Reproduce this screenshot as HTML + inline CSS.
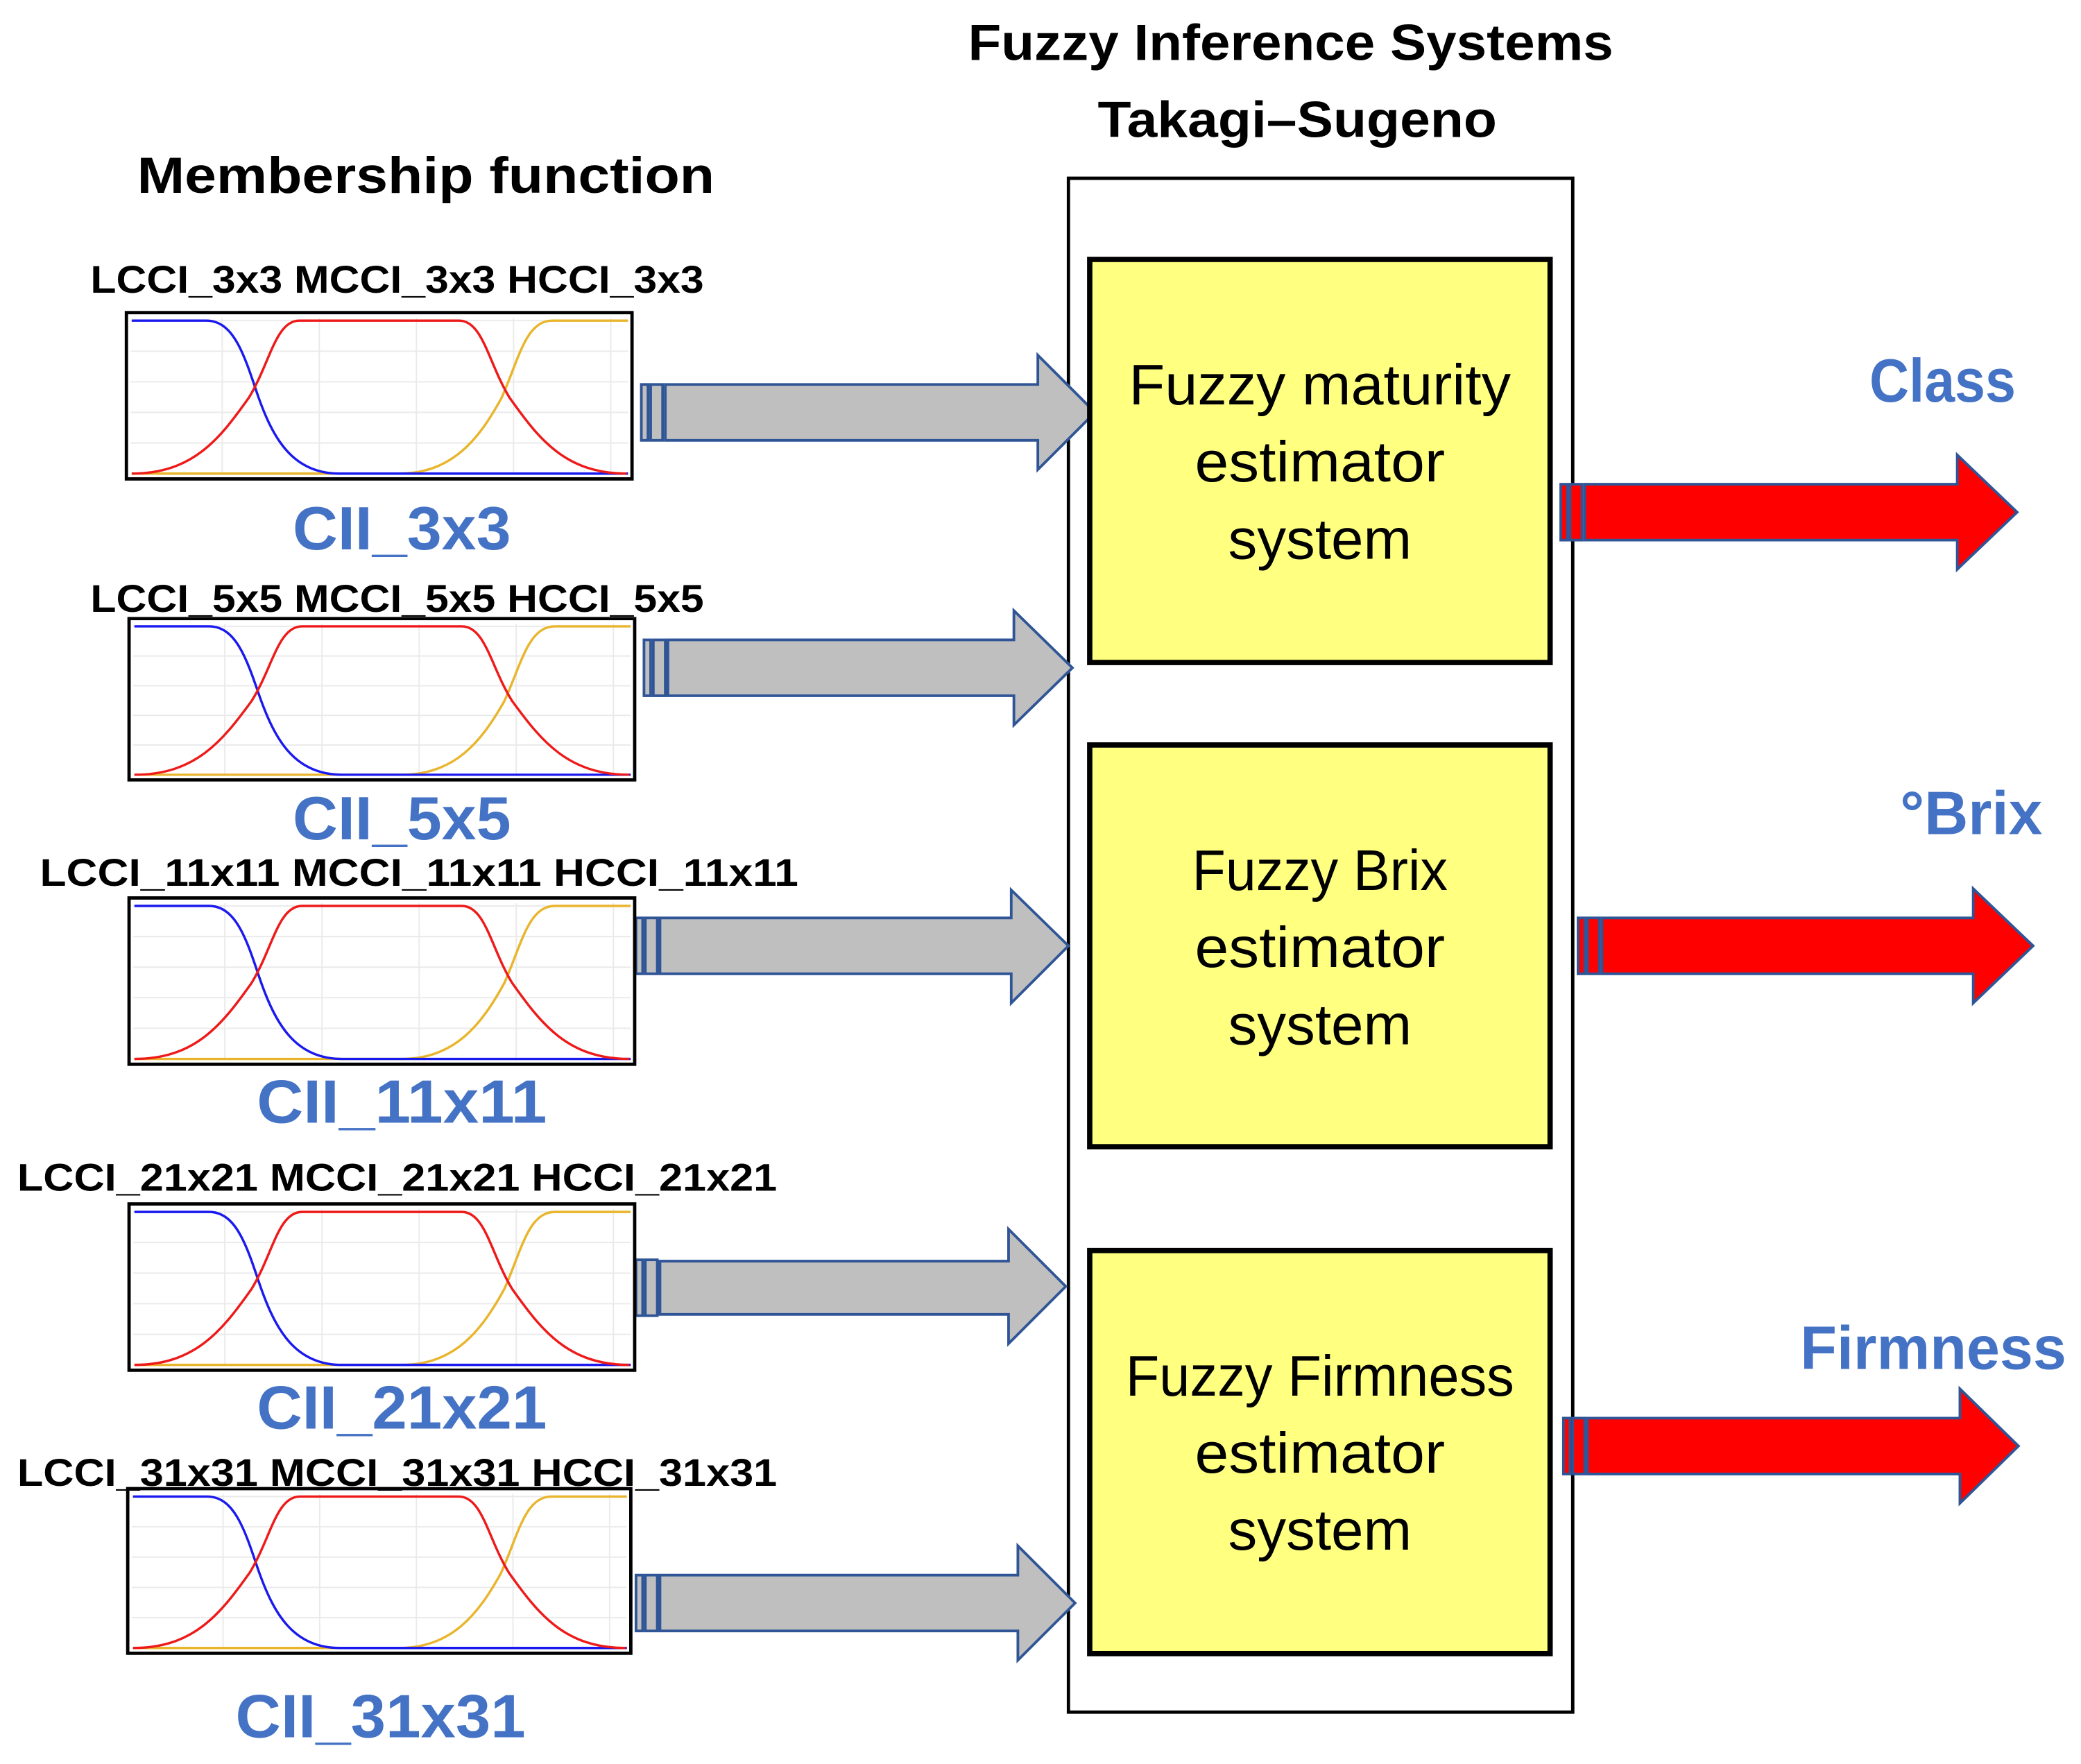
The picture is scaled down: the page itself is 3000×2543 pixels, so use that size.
<!DOCTYPE html>
<html><head><meta charset="utf-8"><style>
html,body{margin:0;padding:0;background:#fff;}
svg{display:block;}
text{font-family:"Liberation Sans",sans-serif;}
</style></head><body>
<svg width="3000" height="2543" viewBox="0 0 1564 1326" preserveAspectRatio="none" xmlns="http://www.w3.org/2000/svg">
<defs>
<g id="chart">
  <rect x="0" y="0" width="380" height="125" fill="#fff"/>
  <g stroke="#eaeaea" stroke-width="1">
    <line x1="72" y1="4" x2="72" y2="122"/><line x1="145" y1="4" x2="145" y2="122"/>
    <line x1="218" y1="4" x2="218" y2="122"/><line x1="291" y1="4" x2="291" y2="122"/>
    <line x1="364" y1="4" x2="364" y2="122"/>
    <line x1="3" y1="6" x2="377" y2="6"/><line x1="3" y1="29" x2="377" y2="29"/>
    <line x1="3" y1="52" x2="377" y2="52"/><line x1="3" y1="75" x2="377" y2="75"/>
    <line x1="3" y1="98" x2="377" y2="98"/>
  </g>
  <g fill="none" stroke-width="1.8">
    <path d="M4 121 H205 C245 121 265 95 282 64 C295 35 300 6 320 6 H377" stroke="#e8b52c"/>
    <path d="M4 6 H60 C80 6 88 30 98 60 C110 95 125 121 160 121 H377" stroke="#1a1aee"/>
    <path d="M4 121 C50 121 70 95 92 64 C108 38 112 6 130 6 H250 C268 6 272 38 288 64 C310 95 330 121 376 121" stroke="#ee1a1a"/>
  </g>
  <rect x="0" y="0" width="380" height="125" fill="none" stroke="#000" stroke-width="2.5"/>
</g>
</defs>

<text x="970" y="45" font-size="38" font-weight="bold" text-anchor="middle" textLength="485" lengthAdjust="spacingAndGlyphs">Fuzzy Inference Systems</text>
<text x="975" y="103" font-size="38" font-weight="bold" text-anchor="middle" textLength="300" lengthAdjust="spacingAndGlyphs">Takagi–Sugeno</text>
<text x="320" y="145" font-size="38" font-weight="bold" text-anchor="middle" textLength="434" lengthAdjust="spacingAndGlyphs">Membership function</text>

<rect x="803" y="134" width="379" height="1153" fill="#fff" stroke="#000" stroke-width="2.5"/>

<g fill="#bfbfbf" stroke="#2f5597" stroke-width="2">
  <rect x="482" y="289" width="5" height="42"/><rect x="489" y="289" width="9" height="42"/>
  <path d="M500 289 H780 V267 L823 310 L780 353 V331 H500 Z"/>
  <rect x="484" y="481" width="5" height="42"/><rect x="491" y="481" width="9" height="42"/>
  <path d="M502 481 H762 V459 L806 502 L762 545 V523 H502 Z"/>
  <rect x="478" y="690" width="5" height="42"/><rect x="485" y="690" width="9" height="42"/>
  <path d="M496 690 H760 V669 L803 711 L760 754 V732 H496 Z"/>
  <rect x="478" y="947" width="5" height="42"/><rect x="485" y="947" width="9" height="42"/>
  <path d="M496 948 H758 V924 L801 967 L758 1010 V988 H496 Z"/>
  <rect x="478" y="1184" width="5" height="42"/><rect x="485" y="1184" width="9" height="42"/>
  <path d="M496 1184 H765 V1162 L808 1205 L765 1248 V1226 H496 Z"/>
</g>

<g fill="#ffff80" stroke="#000" stroke-width="4">
  <rect x="819" y="195" width="346" height="303"/>
  <rect x="819" y="560" width="346" height="302"/>
  <rect x="819" y="940" width="346" height="303"/>
</g>
<g font-size="43" text-anchor="middle">
  <text x="992" y="304" textLength="287" lengthAdjust="spacingAndGlyphs">Fuzzy maturity</text>
  <text x="992" y="362" textLength="188" lengthAdjust="spacingAndGlyphs">estimator</text>
  <text x="992" y="420" textLength="138" lengthAdjust="spacingAndGlyphs">system</text>
  <text x="992" y="669" textLength="192" lengthAdjust="spacingAndGlyphs">Fuzzy Brix</text>
  <text x="992" y="727" textLength="188" lengthAdjust="spacingAndGlyphs">estimator</text>
  <text x="992" y="785" textLength="138" lengthAdjust="spacingAndGlyphs">system</text>
  <text x="992" y="1049" textLength="292" lengthAdjust="spacingAndGlyphs">Fuzzy Firmness</text>
  <text x="992" y="1107" textLength="188" lengthAdjust="spacingAndGlyphs">estimator</text>
  <text x="992" y="1165" textLength="138" lengthAdjust="spacingAndGlyphs">system</text>
</g>

<g fill="#ff0000" stroke="#2f5597" stroke-width="2">
  <rect x="1173" y="364" width="5" height="42"/><rect x="1180" y="364" width="9" height="42"/>
  <path d="M1191 364 H1471 V342 L1516 385 L1471 428 V406 H1191 Z"/>
  <rect x="1186" y="690" width="5" height="42"/><rect x="1193" y="690" width="9" height="42"/>
  <path d="M1204 690 H1483 V668 L1528 711 L1483 754 V732 H1204 Z"/>
  <rect x="1175" y="1066" width="5" height="42"/><rect x="1182" y="1066" width="9" height="42"/>
  <path d="M1193 1066 H1473 V1044 L1517 1087 L1473 1130 V1108 H1193 Z"/>
</g>
<g font-size="46" font-weight="bold" fill="#4472c4">
  <text x="1405" y="302" textLength="110" lengthAdjust="spacingAndGlyphs">Class</text>
  <text x="1428" y="627" textLength="107" lengthAdjust="spacingAndGlyphs">°Brix</text>
  <text x="1353" y="1029" textLength="200" lengthAdjust="spacingAndGlyphs">Firmness</text>
</g>

<use href="#chart" transform="translate(95,235)"/>
<use href="#chart" transform="translate(97,465) scale(1,0.97)"/>
<use href="#chart" transform="translate(97,675)"/>
<use href="#chart" transform="translate(97,905)"/>
<use href="#chart" transform="translate(96,1119) scale(0.995,0.99)"/>

<g font-size="29" font-weight="bold">
  <text x="68" y="220" textLength="461" lengthAdjust="spacingAndGlyphs">LCCI_3x3  MCCI_3x3  HCCI_3x3</text>
  <text x="68" y="460" textLength="461" lengthAdjust="spacingAndGlyphs">LCCI_5x5  MCCI_5x5  HCCI_5x5</text>
  <text x="30" y="666" textLength="570" lengthAdjust="spacingAndGlyphs">LCCI_11x11  MCCI_11x11  HCCI_11x11</text>
  <text x="13" y="895" textLength="571" lengthAdjust="spacingAndGlyphs">LCCI_21x21  MCCI_21x21  HCCI_21x21</text>
  <text x="13" y="1117" textLength="571" lengthAdjust="spacingAndGlyphs">LCCI_31x31  MCCI_31x31  HCCI_31x31</text>
</g>
<g font-size="46" font-weight="bold" fill="#4472c4" text-anchor="middle">
  <text x="302" y="413" textLength="164" lengthAdjust="spacingAndGlyphs">CII_3x3</text>
  <text x="302" y="631" textLength="164" lengthAdjust="spacingAndGlyphs">CII_5x5</text>
  <text x="302" y="844" textLength="218" lengthAdjust="spacingAndGlyphs">CII_11x11</text>
  <text x="302" y="1074" textLength="218" lengthAdjust="spacingAndGlyphs">CII_21x21</text>
  <text x="286" y="1306" textLength="218" lengthAdjust="spacingAndGlyphs">CII_31x31</text>
</g>
</svg>
</body></html>
